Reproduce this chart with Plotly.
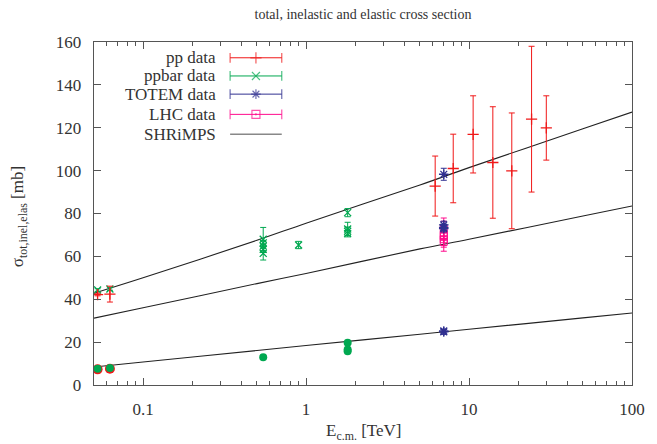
import plotly.graph_objects as go

# ---------------- data ----------------
# pp total cross sections [TeV, mb]
pp_tot_E = [0.0526, 0.0626, 6.2, 8.0, 10.6, 14.0, 18.3, 24.2, 29.8]
pp_tot_sig = [42.2, 42.4, 92.8, 101.0, 116.9, 103.8, 99.9, 124.0, 119.9]
pp_tot_err = [0.6, 3.7, 14.0, 16.0, 18.0, 26.0, 27.0, 34.0, 15.0]
# pp elastic
pp_el_E = [0.0526, 0.0626]
pp_el_sig = [7.3, 7.6]

# ppbar total
ppbar_tot_E = [0.0526, 0.0626, 0.546, 0.546, 0.546, 0.546, 0.546, 0.9, 1.8, 1.8, 1.8, 1.8]
ppbar_tot_sig = [44.3, 44.8, 68.0, 66.3, 64.8, 63.3, 61.4, 65.3, 80.4, 72.8, 71.7, 70.6]
ppbar_tot_err = [0.6, 0.6, 5.5, 1.0, 1.0, 1.5, 3.1, 1.7, 1.9, 3.1, 2.0, 1.5]
# ppbar elastic
ppbar_el_E = [0.0526, 0.0626, 0.546, 1.8, 1.8, 1.8]
ppbar_el_sig = [7.6, 7.9, 13.0, 19.7, 16.6, 15.8]

# TOTEM at 7 TeV
totem_E = [7.0, 7.0, 7.0, 7.0, 7.0, 7.0]
totem_sig = [98.3, 74.7, 73.5, 72.9, 24.8, 25.2]
totem_err = [2.8, 1.7, 1.5, 1.5, 1.2, 0.8]

# other LHC inelastic at 7 TeV
lhc_E = [7.0, 7.0, 7.0, 7.0, 7.0]
lhc_sig = [72.7, 69.4, 68.0, 66.8, 70.0]
lhc_err = [5.2, 7.0, 2.9, 2.5, 2.0]

# SHRiMPS model curves
model_E = [0.05, 0.1, 0.5, 1.0, 5.0, 10.0, 50.0, 100.0]
model_tot = [42.8, 50.0, 67.5, 75.5, 93.3, 101.4, 119.5, 127.3]
model_inel = [31.2, 36.0, 47.3, 52.0, 63.5, 68.0, 78.8, 83.5]
model_el = [8.4, 10.7, 16.1, 18.4, 23.7, 26.0, 31.3, 33.6]

x_ticks = [0.1, 1, 10, 100]
x_ticklabels = ["0.1", "1", "10", "100"]
y_ticks = [0, 20, 40, 60, 80, 100, 120, 140, 160]

legend_labels = ["pp data", "ppbar data", "TOTEM data", "LHC data", "SHRiMPS"]

# ---------------- styles ----------------
RED = "#f01818"
GREEN = "#00a850"
BLUE = "#303090"
MAGENTA = "#ff0a8c"
LINE = "#222222"
FONT = "Liberation Serif"
TXT = "#333333"

fig = go.Figure()

def err(arr, color):
    return dict(type="data", array=arr, color=color, thickness=1, width=3)

# model lines
for ys in (model_tot, model_inel, model_el):
    fig.add_trace(go.Scatter(x=model_E, y=ys, mode="lines", line=dict(color=LINE, width=1.1),
                             line_shape="spline", showlegend=False, hoverinfo="skip"))

# elastic circles
fig.add_trace(go.Scatter(x=pp_el_E, y=pp_el_sig, mode="markers",
                         marker=dict(symbol="circle", size=10, color=RED), showlegend=False))
fig.add_trace(go.Scatter(x=ppbar_el_E, y=ppbar_el_sig, mode="markers",
                         marker=dict(symbol="circle", size=8, color=GREEN), showlegend=False))

# ppbar total
fig.add_trace(go.Scatter(x=ppbar_tot_E, y=ppbar_tot_sig, mode="markers",
                         error_y=err(ppbar_tot_err, GREEN),
                         marker=dict(symbol="x-thin", size=7, line=dict(color=GREEN, width=1.3)),
                         showlegend=False))
# pp total
fig.add_trace(go.Scatter(x=pp_tot_E, y=pp_tot_sig, mode="markers",
                         error_y=err(pp_tot_err, RED),
                         marker=dict(symbol="cross-thin", size=8, line=dict(color=RED, width=1.3)),
                         showlegend=False))
# LHC
fig.add_trace(go.Scatter(x=lhc_E, y=lhc_sig, mode="markers",
                         error_y=err(lhc_err, MAGENTA),
                         marker=dict(symbol="square-open-dot", size=7, color=MAGENTA,
                                     line=dict(color=MAGENTA, width=1)),
                         showlegend=False))
# TOTEM
fig.add_trace(go.Scatter(x=totem_E, y=totem_sig, mode="markers",
                         error_y=err(totem_err, BLUE),
                         marker=dict(symbol="asterisk", size=8, line=dict(color=BLUE, width=1.3)),
                         showlegend=False))

# ---------------- manual gnuplot-style key ----------------
key_rows = [0.954, 0.901, 0.848, 0.789, 0.731]
key_text_x = 0.231
key_x0, key_xm, key_x1 = 0.253, 0.301, 0.349
key_styles = [
    (RED, "cross-thin"),
    (GREEN, "x-thin"),
    (BLUE, "asterisk"),
    (MAGENTA, "square-open-dot"),
]
for (col, sym), yy in zip(key_styles, key_rows):
    fig.add_trace(go.Scatter(x=[key_x0, key_xm, key_x1], y=[yy, yy, yy], xaxis="x2", yaxis="y2",
                             mode="lines+markers", line=dict(color=col, width=1),
                             marker=dict(symbol=["line-ns", sym, "line-ns"], size=[7, 8, 7], color=col,
                                         line=dict(color=col, width=1.2)),
                             showlegend=False, hoverinfo="skip"))
fig.add_trace(go.Scatter(x=[key_x0, key_x1], y=[key_rows[4]] * 2, xaxis="x2", yaxis="y2",
                         mode="lines", line=dict(color="#888888", width=1.5),
                         showlegend=False, hoverinfo="skip"))
for lab, yy in zip(legend_labels, key_rows):
    fig.add_annotation(text=lab, x=key_text_x, y=yy, xref="paper", yref="paper",
                       xanchor="right", yanchor="middle", showarrow=False,
                       font=dict(family=FONT, size=17, color=TXT))

# axis titles
fig.add_annotation(text="E<sub>c.m.</sub> [TeV]", x=0.5, y=-0.137, xref="paper", yref="paper",
                   xanchor="center", yanchor="middle", showarrow=False,
                   font=dict(family=FONT, size=17, color=TXT))
fig.add_annotation(text="σ<sub>tot,inel,elas</sub> [mb]", x=-0.139, y=0.49, xref="paper", yref="paper",
                   xanchor="center", yanchor="middle", textangle=-90, showarrow=False,
                   font=dict(family=FONT, size=17, color=TXT))

minor_x = [m * 10 ** e for e in (-2, -1, 0, 1) for m in range(2, 10) if 0.05 <= m * 10 ** e <= 100]

axis_common = dict(showline=True, linecolor="#555555", linewidth=1.3, mirror="allticks",
                   ticks="inside", tickcolor="#555555", showgrid=False, zeroline=False,
                   tickfont=dict(family=FONT, size=17, color=TXT))

fig.update_layout(
    width=657, height=444,
    margin=dict(l=94, r=18, t=42, b=59),
    paper_bgcolor="white", plot_bgcolor="white",
    font=dict(family=FONT, size=16, color=TXT),
    title=dict(text="total, inelastic and elastic cross section", x=0.5, xref="paper",
               y=1 - 14 / 444, yref="container", xanchor="center", yanchor="middle",
               font=dict(family=FONT, size=14, color=TXT)),
    xaxis=dict(type="log", range=[-1.30103, 2], tickvals=x_ticks, ticktext=x_ticklabels,
               ticklen=7, ticklabelstandoff=8,
               minor=dict(tickvals=minor_x, ticks="inside", ticklen=4, tickcolor="#555555"),
               **axis_common),
    yaxis=dict(range=[0, 160], tickvals=y_ticks, ticklen=7, ticklabelstandoff=8, **axis_common),
    xaxis2=dict(overlaying="x", range=[0, 1], visible=False, anchor="y2"),
    yaxis2=dict(overlaying="y", range=[0, 1], visible=False, anchor="x2"),
    showlegend=False,
)

fig.write_html("out.html", config={"displayModeBar": False, "staticPlot": True},
               post_script="document.body.style.margin='0px';document.body.style.overflow='hidden';")
